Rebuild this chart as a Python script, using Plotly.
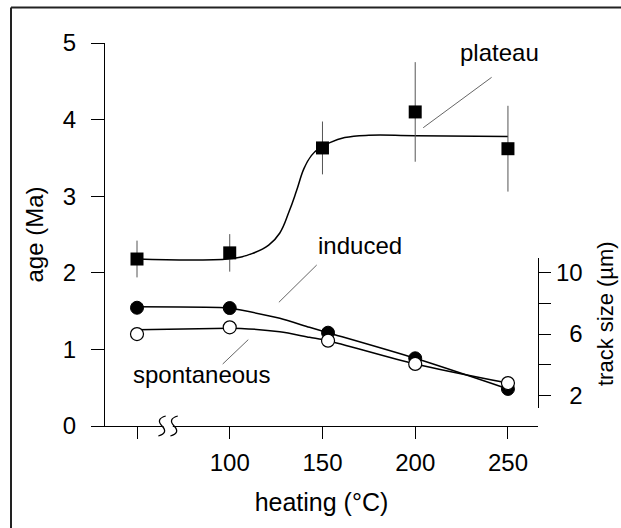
import plotly.graph_objects as go

# ---------------- data ----------------
temps = [50, 100, 150, 200, 250]            # heating (°C); 50 = unheated (broken axis)
age_plateau = [2.18, 2.26, 3.63, 4.10, 3.62]  # age (Ma)
age_err = [0.24, 0.245, 0.345, 0.65, 0.56]

# fitted curve through plateau ages
fit_age_T = [50, 100, 112, 121, 127, 132, 136, 140, 144, 148, 154, 162, 175, 200, 250]
fit_age_y = [2.18, 2.185, 2.25, 2.36, 2.52, 2.80, 3.07, 3.36, 3.53, 3.62, 3.70, 3.765, 3.795, 3.79, 3.78]

# track sizes (µm)
temps_tracks = [50, 100, 153, 200, 250]
induced_um = [7.72, 7.70, 6.09, 4.42, 2.42]
spont_um = [6.00, 6.44, 5.57, 4.05, 2.80]

fit_ind_T = [50, 100, 106, 127, 143, 153, 200, 250]
fit_ind_y = [7.78, 7.70, 7.57, 7.03, 6.44, 6.09, 4.42, 2.42]
fit_spo_T = [50, 100, 106, 127, 143, 153, 200, 250]
fit_spo_y = [6.28, 6.38, 6.37, 6.15, 5.79, 5.57, 4.05, 2.80]

x_ticks = [50, 100, 150, 200, 250]
x_ticklabels = ["", "100", "150", "200", "250"]
y_ticks = [0, 1, 2, 3, 4, 5]
y2_ticks = [2, 4, 6, 8, 10]
y2_ticklabels = ["\u20072", "", "\u20076", "", "10"]

labels = ["plateau", "induced", "spontaneous"]
label_T = [245.7, 170.2, 85.0]
label_age = [4.87, 2.35, 0.67]
leader_T0 = [241.2, 146.9, 110.0]
leader_a0 = [4.552, 2.102, 1.127]
leader_T1 = [204.3, 126.5, 96.2]
leader_a1 = [3.894, 1.615, 0.809]

FONT = "Liberation Sans, Arial, sans-serif"

fig = go.Figure()

# plateau fit curve
fig.add_trace(go.Scatter(x=fit_age_T, y=fit_age_y, mode="lines",
                         line=dict(color="black", width=1.5, shape="spline", smoothing=1.2),
                         hoverinfo="skip", showlegend=False))
# plateau points with error bars
fig.add_trace(go.Scatter(x=temps, y=age_plateau, mode="markers",
                         marker=dict(symbol="square", size=13, color="black"),
                         error_y=dict(type="data", array=age_err, color="#555555",
                                      thickness=1, width=0),
                         showlegend=False))
# track size fit curves
fig.add_trace(go.Scatter(x=fit_ind_T, y=fit_ind_y, mode="lines", yaxis="y2",
                         line=dict(color="black", width=1.5, shape="spline", smoothing=0.8),
                         hoverinfo="skip", showlegend=False))
fig.add_trace(go.Scatter(x=fit_spo_T, y=fit_spo_y, mode="lines", yaxis="y2",
                         line=dict(color="black", width=1.5, shape="spline", smoothing=0.8),
                         hoverinfo="skip", showlegend=False))
# track size points
fig.add_trace(go.Scatter(x=temps_tracks, y=induced_um, mode="markers", yaxis="y2",
                         marker=dict(symbol="circle", size=13, color="black",
                                     line=dict(color="black", width=1)),
                         cliponaxis=False, showlegend=False))
fig.add_trace(go.Scatter(x=temps_tracks, y=spont_um, mode="markers", yaxis="y2",
                         marker=dict(symbol="circle", size=13, color="white",
                                     line=dict(color="black", width=1.2)),
                         cliponaxis=False, showlegend=False))

# plot area geometry (pixels)
L, R, T, B = 105, 83, 43, 102
W, H = 621, 528
pw, ph = W - L - R, H - T - B

shapes = []
# leader lines
for i in range(len(labels)):
    shapes.append(dict(type="line", xref="x", yref="y",
                       x0=leader_T0[i], y0=leader_a0[i], x1=leader_T1[i], y1=leader_a1[i],
                       line=dict(color="#666666", width=1)))

# outer frame (top and left edges visible)
def px2paper_x(px):
    return (px - L) / pw

def px2paper_y(py):
    return (H - B - py) / ph

shapes.append(dict(type="line", xref="paper", yref="paper",
                   x0=px2paper_x(11), y0=px2paper_y(7.5), x1=px2paper_x(621), y1=px2paper_y(7.5),
                   line=dict(color="#222222", width=2)))
shapes.append(dict(type="line", xref="paper", yref="paper",
                   x0=px2paper_x(11), y0=px2paper_y(7.5), x1=px2paper_x(11), y1=px2paper_y(528),
                   line=dict(color="#222222", width=2)))

# axis break symbol (two S-curves)
dy = 10 / ph
def s_path(xc):
    dx = 2.0
    return (f"M {xc+dx},{dy} Q {xc-dx*1.8},{dy*0.7} {xc},0 "
            f"Q {xc+dx*1.8},{-dy*0.7} {xc-dx},{-dy}")
shapes.append(dict(type="rect", xref="x", yref="paper", x0=64.3, x1=69.3,
                   y0=-1.5/ph, y1=1.5/ph, fillcolor="white", line=dict(width=0), layer="above"))
for xc in (63.5, 70.0):
    shapes.append(dict(type="path", xref="x", yref="paper", path=s_path(xc),
                       line=dict(color="black", width=1.3), layer="above"))

annotations = []
for i, t in enumerate(labels):
    annotations.append(dict(x=label_T[i], y=label_age[i], xref="x", yref="y", text=t,
                            showarrow=False, xanchor="center", yanchor="middle",
                            font=dict(family=FONT, size=24, color="black")))
# right axis title
annotations.append(dict(x=px2paper_x(605), y=px2paper_y(314), xref="paper", yref="paper",
                        text="track size (\u00b5m)", textangle=-90, showarrow=False,
                        xanchor="center", yanchor="middle",
                        font=dict(family=FONT, size=22, color="black")))

y2_lo, y2_hi = 1.175, 10.966
fig.update_layout(
    width=W, height=H,
    margin=dict(l=L, r=R, t=T, b=B, pad=0),
    paper_bgcolor="white", plot_bgcolor="rgba(0,0,0,0)",
    font=dict(family=FONT, color="black"),
    showlegend=False,
    xaxis=dict(range=[32.75, 266.2], tickvals=x_ticks, ticktext=x_ticklabels,
               ticks="outside", ticklen=12, tickwidth=1.3, tickcolor="black",
               showline=True, linecolor="black", linewidth=1.3,
               showgrid=False, zeroline=False, anchor="y",
               tickfont=dict(size=24), ticklabelstandoff=3,
               title=dict(text="heating (°C)", font=dict(size=25), standoff=18)),
    yaxis=dict(range=[0, 5], tickvals=y_ticks, ticks="outside", ticklen=13,
               tickwidth=1.3, tickcolor="black",
               showline=True, linecolor="black", linewidth=1.3,
               showgrid=False, zeroline=False, anchor="x",
               tickfont=dict(size=24), ticklabelstandoff=10,
               title=dict(text="age (Ma)", font=dict(size=24), standoff=12)),
    yaxis2=dict(domain=[px2paper_y(408), px2paper_y(258)], range=[y2_lo, y2_hi],
                anchor="x", side="right",
                tickvals=y2_ticks, ticktext=y2_ticklabels,
                ticks="outside", ticklen=12, tickwidth=1.3, tickcolor="black",
                showline=True, linecolor="black", linewidth=1.3,
                showgrid=False, zeroline=False,
                tickfont=dict(size=24), ticklabelstandoff=0),
    shapes=shapes,
    annotations=annotations,
)

fig.write_html("out.html",
               post_script="document.documentElement.style.overflow='hidden';"
                           "document.body.style.overflow='hidden';"
                           "document.body.style.margin='0';")
